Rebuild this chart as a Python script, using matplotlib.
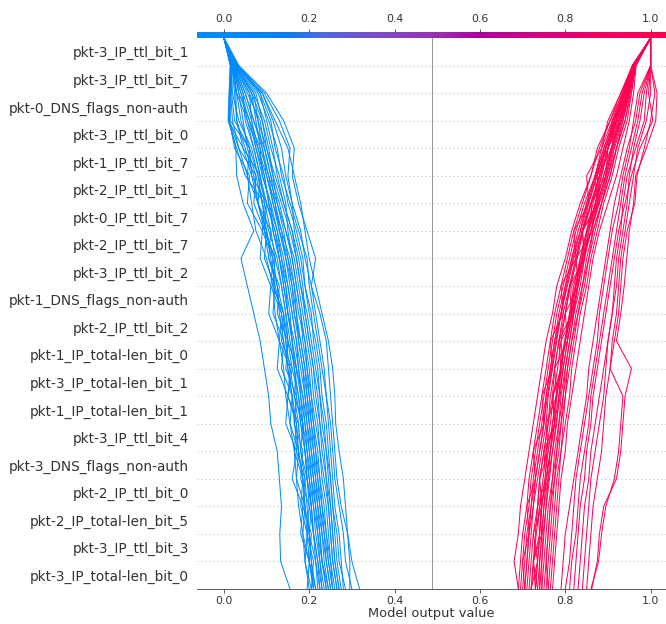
import numpy as np
import matplotlib.pyplot as plt
from matplotlib.colors import LinearSegmentedColormap, Normalize

#- features, top row first
features = ['pkt-3_IP_ttl_bit_1', 'pkt-3_IP_ttl_bit_7', 'pkt-0_DNS_flags_non-auth',
            'pkt-3_IP_ttl_bit_0', 'pkt-1_IP_ttl_bit_7', 'pkt-2_IP_ttl_bit_1',
            'pkt-0_IP_ttl_bit_7', 'pkt-2_IP_ttl_bit_7', 'pkt-3_IP_ttl_bit_2',
            'pkt-1_DNS_flags_non-auth', 'pkt-2_IP_ttl_bit_2', 'pkt-1_IP_total-len_bit_0',
            'pkt-3_IP_total-len_bit_1', 'pkt-1_IP_total-len_bit_1', 'pkt-3_IP_ttl_bit_4',
            'pkt-3_DNS_flags_non-auth', 'pkt-2_IP_ttl_bit_0', 'pkt-2_IP_total-len_bit_5',
            'pkt-3_IP_ttl_bit_3', 'pkt-3_IP_total-len_bit_0']

base_value = 0.487

#- cumulative output per sample, from model output (top) down to the last shown feature
blue_paths = [
    [0, .020, .014, .012, .028, .030, .045, .070, .040, .055, .070, .085, .095, .105, .110, .125, .130, .135, .131, .133, .155],
    [0, .035, .100, .140, .165, .160, .175, .195, .215, .205, .225, .240, .245, .250, .255, .260, .265, .275, .290, .300, .318],
    [0, .030, .090, .120, .150, .165, .180, .190, .200, .215, .230, .245, .255, .260, .262, .270, .280, .285, .290, .295, .295],
    [0, .025, .060, .080, .100, .120, .140, .160, .170, .180, .190, .200, .210, .215, .225, .230, .240, .250, .255, .260, .270],
    [0, .018, .015, .015, .060, .065, .100, .095, .120, .115, .140, .150, .170, .165, .185, .180, .195, .205, .200, .215, .225],
    [0, .022, .030, .040, .060, .080, .100, .120, .130, .145, .150, .160, .170, .180, .185, .190, .200, .205, .210, .220, .230],
    [0, .028, .070, .095, .110, .130, .145, .150, .160, .170, .180, .185, .195, .200, .210, .215, .220, .225, .235, .240, .250],
    [0, .015, .013, .011, .045, .085, .080, .110, .105, .130, .125, .150, .145, .170, .165, .185, .180, .200, .195, .210, .205],
    [0, .033, .085, .110, .120, .140, .150, .170, .185, .190, .200, .215, .225, .230, .240, .245, .250, .255, .260, .265, .275],
    [0, .020, .040, .060, .075, .090, .110, .115, .130, .140, .150, .165, .175, .180, .190, .195, .205, .210, .215, .225, .235],
    [0, .024, .050, .070, .090, .100, .115, .130, .145, .160, .170, .175, .185, .195, .200, .205, .215, .220, .225, .230, .240],
    [0, .017, .016, .020, .035, .075, .070, .095, .120, .115, .140, .135, .160, .150, .175, .170, .190, .185, .205, .200, .215],
    [0, .027, .065, .075, .085, .105, .125, .140, .150, .165, .175, .190, .200, .205, .215, .225, .230, .240, .245, .250, .260],
    [0, .019, .025, .030, .045, .065, .080, .095, .105, .125, .140, .145, .155, .165, .175, .180, .190, .195, .200, .205, .210],
    [0, .031, .080, .105, .125, .135, .155, .175, .195, .200, .210, .220, .230, .240, .245, .250, .255, .260, .270, .275, .280],
    [0, .021, .045, .050, .070, .085, .095, .110, .120, .135, .145, .155, .165, .170, .180, .190, .195, .200, .210, .215, .220],
    [0, .016, .014, .013, .025, .060, .055, .090, .085, .110, .105, .130, .125, .150, .145, .170, .160, .185, .180, .200, .195],
    [0, .026, .055, .085, .095, .110, .130, .145, .165, .175, .185, .195, .205, .210, .220, .225, .235, .245, .250, .255, .265],
    [0, .023, .035, .045, .055, .075, .090, .105, .125, .135, .145, .150, .160, .175, .185, .195, .200, .210, .220, .225, .230],
    [0, .029, .075, .090, .105, .115, .135, .155, .170, .180, .195, .205, .215, .225, .230, .240, .245, .250, .255, .260, .270],
    [0, .018, .020, .035, .065, .080, .090, .100, .115, .125, .130, .140, .150, .160, .170, .175, .185, .190, .195, .200, .210],
    [0, .034, .095, .130, .155, .150, .160, .165, .180, .190, .205, .210, .220, .225, .235, .240, .250, .255, .265, .270, .285],
    [0, .020, .030, .055, .080, .095, .105, .125, .140, .150, .160, .170, .180, .190, .195, .200, .210, .215, .225, .230, .245],
    [0, .015, .012, .010, .030, .050, .095, .090, .115, .110, .135, .130, .155, .150, .170, .165, .185, .180, .195, .190, .205],
    [0, .025, .060, .065, .080, .100, .120, .135, .145, .155, .165, .180, .190, .195, .205, .210, .220, .230, .235, .245, .255],
    [0, .022, .040, .055, .070, .085, .100, .120, .135, .145, .155, .160, .170, .185, .190, .200, .205, .215, .220, .230, .240],
    [0, .030, .085, .100, .115, .125, .140, .160, .175, .185, .190, .200, .210, .220, .225, .235, .240, .245, .250, .255, .265],
    [0, .017, .018, .025, .060, .055, .080, .100, .095, .120, .115, .140, .135, .160, .155, .175, .170, .190, .185, .200, .210],
    [0, .028, .065, .090, .100, .115, .125, .145, .160, .170, .180, .190, .195, .205, .210, .220, .225, .235, .240, .250, .255],
    [0, .021, .035, .060, .085, .090, .110, .125, .135, .150, .160, .170, .175, .185, .195, .205, .210, .220, .230, .235, .245],
    [0, .019, .028, .030, .050, .070, .080, .100, .110, .120, .135, .145, .150, .160, .165, .175, .185, .190, .200, .205, .215],
    [0, .032, .090, .115, .135, .145, .160, .180, .190, .205, .215, .225, .235, .240, .250, .255, .260, .270, .280, .285, .300],
    [0, .024, .050, .070, .095, .110, .120, .130, .150, .160, .165, .175, .185, .190, .200, .210, .215, .225, .230, .240, .250],
    [0, .016, .015, .012, .035, .055, .065, .075, .100, .115, .120, .130, .140, .145, .155, .165, .170, .175, .185, .190, .200],
    [0, .026, .070, .080, .090, .105, .115, .135, .155, .165, .170, .180, .190, .200, .205, .215, .225, .230, .240, .245, .255],
    [0, .023, .045, .065, .075, .095, .105, .115, .130, .140, .150, .160, .165, .175, .180, .190, .195, .205, .210, .220, .225],
]

red_paths = [
    [1, .960, .935, .905, .875, .860, .835, .815, .800, .780, .770, .755, .745, .735, .725, .715, .705, .695, .690, .680, .690],
    [1, 1.00, 1.015, 1.012, .990, .965, .960, .950, .944, .938, .930, .920, .955, .940, .935, .930, .920, .890, .880, .875, .862],
    [1, .958, .940, .920, .895, .880, .860, .840, .825, .810, .795, .785, .775, .770, .760, .750, .740, .735, .730, .725, .720],
    [1, .962, .950, .930, .910, .895, .875, .855, .845, .830, .820, .810, .800, .795, .785, .780, .770, .765, .760, .755, .750],
    [1, 1.00, .985, .975, .960, .950, .945, .935, .925, .920, .910, .900, .895, .890, .880, .870, .860, .855, .850, .845, .840],
    [1, .957, .930, .900, .885, .850, .855, .820, .825, .790, .795, .765, .770, .745, .750, .725, .730, .710, .715, .700, .705],
    [1, .960, .945, .920, .900, .885, .870, .850, .835, .825, .810, .800, .790, .780, .775, .765, .755, .745, .740, .735, .730],
    [1, .965, .955, .940, .920, .905, .885, .865, .850, .840, .830, .820, .810, .800, .795, .790, .780, .775, .770, .765, .760],
    [1, 1.00, .995, 1.005, .975, .955, .940, .925, .915, .905, .895, .885, .875, .865, .860, .850, .845, .835, .830, .825, .820],
    [1, .958, .935, .915, .890, .870, .850, .835, .815, .800, .790, .775, .765, .755, .750, .740, .730, .720, .715, .710, .705],
    [1, .960, .940, .915, .910, .875, .880, .840, .845, .810, .815, .785, .790, .770, .775, .750, .755, .735, .740, .725, .730],
    [1, .963, .950, .935, .915, .900, .880, .860, .840, .830, .815, .805, .795, .785, .780, .770, .760, .755, .750, .745, .745],
    [1, 1.00, .970, .960, .950, .935, .925, .910, .900, .890, .880, .875, .865, .855, .845, .835, .825, .820, .815, .810, .800],
    [1, .959, .930, .905, .880, .860, .840, .820, .805, .790, .775, .765, .755, .745, .735, .725, .715, .710, .700, .695, .690],
    [1, .961, .945, .930, .910, .890, .870, .855, .840, .825, .815, .800, .790, .785, .775, .765, .760, .750, .745, .740, .735],
    [1, .964, .955, .945, .925, .910, .890, .875, .860, .850, .835, .825, .815, .810, .800, .790, .785, .780, .775, .770, .765],
    [1, 1.00, 1.010, 1.000, .985, .968, .963, .945, .935, .930, .925, .915, .905, .895, .890, .885, .875, .865, .860, .855, .850],
    [1, .957, .940, .915, .895, .875, .855, .840, .820, .805, .790, .780, .770, .760, .755, .745, .735, .725, .720, .715, .710],
    [1, .962, .948, .925, .900, .895, .860, .865, .825, .830, .800, .805, .775, .780, .755, .760, .740, .745, .725, .735, .720],
    [1, .960, .950, .935, .920, .900, .885, .870, .855, .845, .830, .815, .805, .800, .790, .785, .775, .770, .765, .760, .755],
    [1, 1.00, .980, .970, .955, .940, .930, .920, .910, .900, .890, .880, .870, .860, .855, .845, .835, .830, .825, .815, .810],
    [1, .958, .933, .910, .885, .870, .850, .830, .815, .800, .785, .775, .765, .755, .745, .735, .725, .720, .710, .705, .700],
    [1, .963, .945, .925, .910, .895, .875, .860, .845, .835, .820, .810, .800, .790, .785, .775, .770, .760, .755, .750, .745],
    [1, .961, .940, .910, .900, .870, .875, .840, .845, .815, .820, .790, .795, .770, .775, .755, .760, .740, .745, .725, .735],
    [1, .966, .960, .950, .935, .920, .900, .880, .865, .855, .845, .835, .825, .815, .805, .800, .790, .785, .780, .775, .770],
    [1, 1.00, .990, .985, .965, .945, .935, .930, .920, .915, .910, .900, .890, .880, .870, .860, .855, .845, .840, .835, .830],
    [1, .959, .937, .912, .890, .870, .845, .825, .810, .795, .780, .770, .760, .750, .740, .730, .720, .715, .705, .700, .695],
    [1, .962, .950, .930, .900, .885, .865, .850, .835, .820, .810, .800, .790, .780, .770, .765, .755, .750, .745, .740, .740],
    [1, .960, .942, .920, .895, .880, .860, .840, .825, .810, .800, .785, .775, .765, .760, .750, .740, .735, .725, .720, .715],
    [1, .964, .952, .940, .920, .905, .885, .865, .855, .840, .825, .815, .805, .795, .790, .780, .775, .765, .760, .755, .760],
    [1, 1.00, .975, .965, .945, .930, .915, .905, .895, .885, .875, .865, .855, .850, .840, .830, .820, .810, .800, .795, .790],
    [1, .958, .938, .918, .893, .873, .853, .836, .818, .803, .790, .778, .768, .758, .750, .740, .730, .725, .715, .710, .705],
    [1, .961, .947, .927, .907, .890, .872, .852, .838, .823, .812, .798, .788, .778, .770, .760, .752, .745, .740, .735, .730],
    [1, .963, .950, .932, .913, .897, .878, .860, .842, .828, .818, .805, .795, .788, .778, .770, .763, .755, .748, .745, .740],
    [1, .960, .944, .922, .900, .882, .862, .842, .828, .812, .800, .790, .782, .772, .765, .755, .748, .740, .732, .726, .720],
    [1, 1.00, 1.000, .990, .970, .960, .950, .940, .930, .925, .920, .910, .905, .935, .930, .925, .915, .895, .885, .878, .860],
]

#- shap-like red/blue colour map
cmap = LinearSegmentedColormap.from_list('red_blue', [
    (0.00, '#008bfb'), (0.15, '#0a7ff0'), (0.22, '#4a6ae0'), (0.35, '#7a4ec8'),
    (0.50, '#9a30b0'), (0.60, '#ad00a0'), (0.75, '#d5007f'), (0.90, '#f50062'),
    (1.00, '#ff0051')])
norm = Normalize(0, 1)

xmin, xmax = -0.063, 1.036
n = len(features)
levels = np.arange(n, -1, -1)

fig = plt.figure(figsize=(666 / 72, 624 / 72), dpi=72)
ax = fig.add_axes([197 / 666, 35 / 624, 1 - 197 / 666, 551 / 624])
cax = fig.add_axes([197 / 666, 586 / 624, 1 - 197 / 666, 6.5 / 624])

for i in range(1, n):
    ax.axhline(i, color='#bbbbbb', lw=1, ls=(0, (1, 3)), zorder=0)
ax.axvline(base_value, color='#999999', lw=1, zorder=1)

for path in blue_paths + red_paths:
    ax.plot(path, levels, color=cmap(norm(float(path[0]))), lw=1, zorder=2)

ax.set_xlim(xmin, xmax)
ax.set_ylim(0, n)
ax.set_yticks(np.arange(n) + 0.5)
ax.set_yticklabels(features[::-1], fontsize=13.6, color='#333333')
ax.tick_params(axis='y', length=0, pad=8)
ax.tick_params(axis='x', labelsize=11, labelcolor='#333333', color='#333333', pad=3)
ax.set_xticks(np.arange(0, 1.01, 0.2))
ax.set_xlabel('Model output value', fontsize=13, color='#333333', labelpad=1)
for s in ['left', 'top', 'right']:
    ax.spines[s].set_visible(False)
ax.spines['bottom'].set_color('#333333')

#- colour bar on top
grad = np.linspace(xmin, xmax, 600).reshape(1, -1)
cax.imshow(grad, cmap=cmap, norm=norm, aspect='auto',
           extent=[xmin, xmax, 0, 1])
cax.set_xlim(xmin, xmax)
cax.set_yticks([])
cax.set_xticks(np.arange(0, 1.01, 0.2))
cax.xaxis.tick_top()
cax.tick_params(axis='x', labelsize=11, labelcolor='#333333', color='#333333')
for s in cax.spines.values():
    s.set_visible(False)

plt.savefig('out.png', dpi=72)
plt.close()
